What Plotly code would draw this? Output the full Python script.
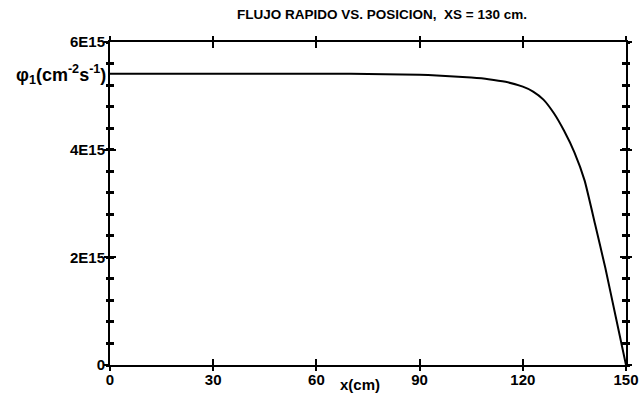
import plotly.graph_objects as go

# Data
x_cm = [0, 10, 20, 30, 40, 50, 60, 70, 80, 90, 95, 100, 105, 110, 115, 120, 123, 126, 129, 132, 135, 138, 141, 144, 147, 150]
flux = [5.41, 5.41, 5.41, 5.41, 5.41, 5.41, 5.41, 5.41, 5.40, 5.39, 5.38, 5.36, 5.34, 5.31, 5.26, 5.17, 5.08, 4.93, 4.68, 4.35, 3.95, 3.42, 2.62, 1.80, 0.90, 0.0]
flux = [v * 1e15 for v in flux]

x_ticks = [0, 30, 60, 90, 120, 150]
x_ticklabels = ["0", "30", "60", "90", "120", "150"]
y_ticks = [0, 2e15, 4e15, 6e15]
y_ticklabels = ["0", "2E15", "4E15", "6E15"]

title_text = "FLUJO RAPIDO VS. POSICION,  XS = 130 cm."
xlabel = "x(cm)"
ylabel = "φ<sub>1</sub>(cm<sup>-2</sup>s<sup>-1</sup>)"

FONT = dict(family="Liberation Sans", color="black", weight="bold")

fig = go.Figure()
fig.add_trace(go.Scatter(x=x_cm, y=flux, mode="lines", line=dict(color="black", width=2, shape="spline", smoothing=0.4),
                         showlegend=False, hoverinfo="skip"))
fig.add_trace(go.Scatter(x=[0, 150], y=[0, 6e15], xaxis="x2", yaxis="y2", mode="markers",
                         marker=dict(opacity=0), showlegend=False, hoverinfo="skip"))

fig.update_layout(
    width=644, height=394,
    margin=dict(l=110, r=18, t=42, b=29),
    paper_bgcolor="white", plot_bgcolor="white",
    font=dict(size=15, **FONT),
    title=dict(text=title_text, x=382 / 644, xanchor="center", y=0.975, yanchor="top",
               font=dict(size=13.5, **FONT)),
    xaxis=dict(range=[0, 150], tickvals=x_ticks, ticktext=x_ticklabels, showgrid=False, zeroline=False,
               showline=True, linecolor="black", linewidth=2, mirror="allticks", automargin=False,
               ticks="inside", ticklen=6, tickwidth=2, tickcolor="black",
               tickfont=dict(size=15, **FONT)),
    yaxis=dict(range=[0, 6e15], tickvals=y_ticks, ticktext=y_ticklabels, showgrid=False, zeroline=False,
               showline=True, linecolor="black", linewidth=2, mirror="allticks", automargin=False,
               ticks="inside", ticklen=6, tickwidth=2, tickcolor="black",
               minor=dict(dtick=0.4e15, tick0=0, ticks="inside", ticklen=4, tickwidth=3, tickcolor="black"),
               tickfont=dict(size=15, **FONT)),
    xaxis2=dict(range=[0, 150], overlaying="x", side="bottom", tickvals=x_ticks, showticklabels=False,
                showgrid=False, zeroline=False, showline=False, mirror="allticks", automargin=False,
                ticks="outside", ticklen=5, tickwidth=2, tickcolor="black"),
    yaxis2=dict(range=[0, 6e15], overlaying="y", side="left", tickvals=y_ticks, showticklabels=False,
                showgrid=False, zeroline=False, showline=False, mirror="allticks", automargin=False,
                ticks="outside", ticklen=5, tickwidth=2, tickcolor="black",
                minor=dict(dtick=0.4e15, tick0=0, ticks="outside", ticklen=3, tickwidth=3, tickcolor="black")),
    annotations=[
        dict(text=ylabel, xref="paper", yref="paper", x=-0.004, y=(365 - 74) / 323, xanchor="right",
             yanchor="middle", showarrow=False, font=dict(size=18, **FONT)),
        dict(text=xlabel, xref="paper", yref="paper", x=(360 - 110) / 516, y=-0.028, xanchor="center",
             yanchor="top", showarrow=False, font=dict(size=15, **FONT)),
    ],
)

fig.write_html("out.html")
